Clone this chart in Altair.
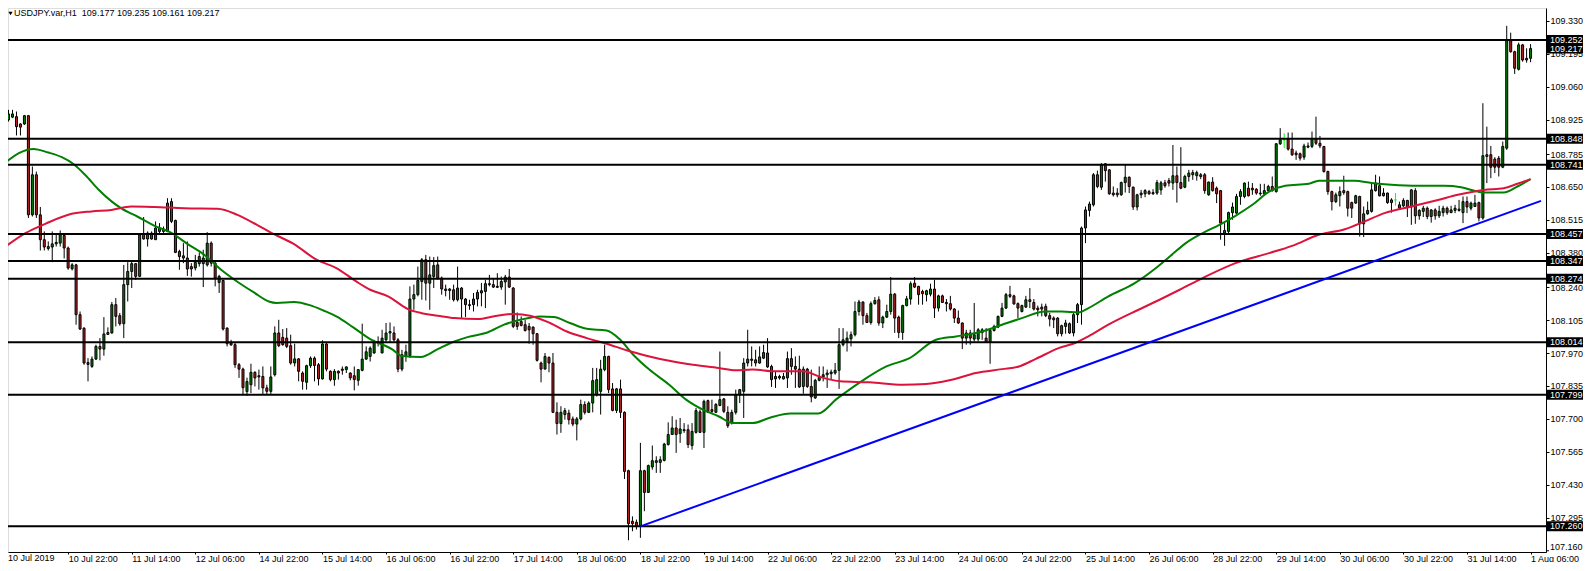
import altair as alt
import pandas as pd

# ---------------- data ----------------
opens = [108.938,108.925,108.936,108.938,108.908,108.908,108.942,108.536,108.700,108.536,
108.434,108.406,108.404,108.417,108.420,108.451,108.400,108.315,108.331,108.127,
108.072,107.931,107.915,107.945,107.997,107.986,108.054,108.052,108.168,108.123,
108.090,108.250,108.304,108.336,108.284,108.457,108.437,108.461,108.434,108.468,
108.478,108.468,108.590,108.513,108.386,108.368,108.359,108.324,108.318,108.336,
108.336,108.331,108.420,108.338,108.259,108.267,108.072,108.011,108.004,107.922,
107.904,107.812,107.840,107.891,107.877,107.874,107.827,107.813,107.881,108.052,
108.034,108.031,108.000,107.929,107.946,107.888,107.850,107.918,107.949,107.922,
107.864,108.007,107.895,107.861,107.895,107.904,107.902,107.888,107.877,107.858,
107.899,107.945,107.956,107.970,108.017,107.970,108.024,108.052,108.052,108.024,
107.904,107.959,107.959,108.191,108.209,108.263,108.352,108.256,108.283,108.331,
108.277,108.232,108.232,108.229,108.188,108.236,108.191,108.168,108.168,108.191,
108.216,108.222,108.254,108.250,108.243,108.240,108.261,108.281,108.236,108.095,
108.099,108.086,108.079,108.076,108.049,107.929,107.904,107.952,107.929,107.727,
107.681,107.718,107.724,107.700,107.679,107.700,107.759,107.727,107.765,107.799,
107.813,107.902,107.956,107.823,107.735,107.823,107.727,107.488,107.281,107.277,
107.263,107.488,107.399,107.503,107.529,107.522,107.530,107.595,107.636,107.663,
107.640,107.656,107.656,107.591,107.645,107.729,107.645,107.775,107.738,107.727,
107.755,107.782,107.727,107.684,107.727,107.799,107.813,107.929,107.945,107.942,
107.929,107.949,107.970,107.915,107.864,107.874,107.864,107.868,107.947,107.904,
107.904,107.833,107.904,107.833,107.786,107.858,107.872,107.881,107.885,107.888,
107.899,108.004,108.017,108.028,108.045,108.140,108.179,108.123,108.095,108.172,
108.188,108.093,108.117,108.140,108.211,108.117,108.054,108.164,108.191,108.256,
108.243,108.222,108.209,108.211,108.232,108.154,108.204,108.177,108.172,108.150,
108.113,108.093,108.031,108.052,108.027,108.027,108.054,108.031,108.013,108.062,
108.076,108.120,108.154,108.209,108.204,108.172,108.140,108.158,108.188,108.177,
108.154,108.158,108.161,108.123,108.113,108.113,108.049,108.079,108.090,108.052,
108.127,108.168,108.482,108.554,108.577,108.700,108.649,108.745,108.720,108.625,
108.625,108.618,108.668,108.690,108.649,108.568,108.625,108.622,108.631,108.622,
108.625,108.638,108.667,108.676,108.666,108.696,108.668,108.649,108.693,108.709,
108.696,108.700,108.700,108.618,108.670,108.645,108.635,108.461,108.468,108.545,
108.543,108.611,108.611,108.645,108.645,108.641,108.625,108.622,108.635,108.652,
108.631,108.827,108.843,108.846,108.805,108.789,108.786,108.772,108.813,108.816,
108.846,108.829,108.816,108.713,108.631,108.590,108.614,108.635,108.631,108.586,
108.584,108.611,108.499,108.540,108.550,108.635,108.655,108.625,108.625,108.597,
108.597,108.563,108.573,108.595,108.568,108.635,108.532,108.550,108.563,108.529,
108.556,108.532,108.545,108.563,108.545,108.554,108.559,108.545,108.590,108.563,
108.570,108.586,108.523,108.775,108.782,108.764,108.768,108.731,108.809,109.249,
109.204,109.132,109.232,109.177,109.177]

highs = [108.952,108.966,108.966,108.959,108.911,108.945,108.945,108.734,108.713,108.568,
108.468,108.427,108.468,108.454,108.472,108.461,108.406,108.338,108.335,108.140,
108.075,107.949,107.956,108.004,108.031,108.117,108.075,108.179,108.195,108.134,
108.331,108.342,108.345,108.338,108.461,108.527,108.468,108.468,108.509,108.502,
108.488,108.604,108.604,108.516,108.393,108.420,108.427,108.338,108.372,108.382,
108.393,108.465,108.427,108.345,108.290,108.270,108.075,108.024,108.011,107.929,
107.910,107.869,107.926,107.895,107.902,107.915,107.840,107.915,108.079,108.106,
108.068,108.072,108.045,108.008,107.949,107.895,107.922,107.956,107.956,107.929,
108.022,108.013,107.899,107.904,107.899,107.915,107.915,107.891,107.915,107.904,
108.090,107.997,107.997,108.024,108.038,108.065,108.093,108.095,108.079,108.031,
107.983,108.004,108.243,108.250,108.324,108.359,108.372,108.365,108.363,108.365,
108.283,108.250,108.236,108.250,108.324,108.240,108.195,108.188,108.216,108.229,
108.257,108.270,108.290,108.277,108.297,108.283,108.290,108.314,108.240,108.136,
108.120,108.106,108.093,108.079,108.052,107.935,107.970,107.956,107.970,107.768,
107.752,107.745,107.738,107.710,107.708,107.779,107.772,107.772,107.909,107.909,
107.942,108.004,107.959,107.847,107.827,107.861,107.731,107.492,107.301,107.288,
107.602,107.492,107.513,107.591,107.547,107.547,107.602,107.686,107.711,107.697,
107.704,107.683,107.677,107.683,107.745,107.738,107.779,107.779,107.779,107.765,
107.976,107.786,107.752,107.738,107.820,107.823,107.949,108.065,107.997,107.983,
107.997,108.004,108.031,107.922,107.895,107.881,107.888,107.976,107.990,107.956,
107.959,107.915,107.909,107.902,107.864,107.915,107.915,107.902,107.902,107.929,
108.072,108.072,108.058,108.058,108.181,108.188,108.181,108.134,108.181,108.199,
108.202,108.123,108.168,108.281,108.216,108.123,108.168,108.204,108.263,108.281,
108.245,108.229,108.229,108.254,108.270,108.209,108.209,108.191,108.204,108.154,
108.144,108.095,108.065,108.065,108.175,108.072,108.072,108.072,108.065,108.086,
108.123,108.175,108.216,108.245,108.209,108.177,108.168,108.204,108.236,108.191,
108.164,108.172,108.172,108.134,108.120,108.117,108.086,108.106,108.095,108.134,
108.175,108.488,108.570,108.590,108.707,108.717,108.748,108.748,108.723,108.652,
108.645,108.672,108.741,108.693,108.652,108.622,108.638,108.641,108.638,108.641,
108.679,108.675,108.679,108.687,108.822,108.734,108.813,108.700,108.720,108.720,
108.717,108.707,108.707,108.672,108.690,108.652,108.638,108.502,108.549,108.586,
108.622,108.641,108.668,108.672,108.666,108.645,108.663,108.663,108.659,108.693,
108.829,108.891,108.870,108.873,108.873,108.799,108.791,108.827,108.832,108.877,
108.938,108.859,108.818,108.717,108.635,108.627,108.652,108.696,108.635,108.590,
108.618,108.614,108.570,108.590,108.666,108.700,108.693,108.645,108.627,108.604,
108.625,108.590,108.604,108.597,108.641,108.645,108.559,108.573,108.570,108.559,
108.563,108.573,108.573,108.570,108.573,108.577,108.597,108.611,108.611,108.590,
108.618,108.590,108.993,108.897,108.818,108.772,108.777,108.836,109.310,109.282,
109.208,109.241,109.236,109.218,109.235]

lows = [108.859,108.918,108.932,108.861,108.861,108.904,108.523,108.529,108.523,108.390,
108.390,108.390,108.342,108.406,108.406,108.357,108.311,108.308,108.086,108.065,
107.922,107.854,107.909,107.942,107.940,107.959,108.045,108.049,108.079,108.082,
108.031,108.181,108.236,108.270,108.281,108.434,108.406,108.434,108.434,108.454,
108.462,108.465,108.502,108.379,108.311,108.338,108.286,108.283,108.308,108.324,
108.240,108.324,108.324,108.243,108.216,108.062,107.997,108.000,107.909,107.868,
107.799,107.795,107.806,107.833,107.820,107.799,107.799,107.799,107.874,107.994,
108.000,107.990,107.922,107.915,107.854,107.820,107.820,107.909,107.854,107.837,
107.861,107.895,107.854,107.836,107.861,107.881,107.888,107.858,107.817,107.836,
107.895,107.942,107.935,107.967,107.997,107.970,108.017,108.011,108.017,107.891,
107.895,107.934,107.950,108.147,108.202,108.188,108.185,108.147,108.236,108.270,
108.209,108.202,108.188,108.181,108.181,108.113,108.117,108.147,108.140,108.161,
108.161,108.154,108.243,108.236,108.236,108.229,108.168,108.236,108.072,108.065,
108.079,108.058,108.008,108.004,107.935,107.850,107.904,107.891,107.724,107.636,
107.643,107.697,107.677,107.670,107.612,107.694,107.718,107.724,107.727,107.792,
107.718,107.895,107.806,107.731,107.724,107.704,107.454,107.203,107.240,107.247,
107.213,107.322,107.397,107.492,107.479,107.479,107.526,107.591,107.636,107.561,
107.602,107.643,107.581,107.574,107.640,107.643,107.581,107.724,107.724,107.724,
107.752,107.724,107.663,107.677,107.718,107.765,107.704,107.915,107.915,107.915,
107.926,107.945,107.909,107.831,107.827,107.861,107.861,107.827,107.881,107.827,
107.827,107.803,107.827,107.768,107.782,107.854,107.854,107.827,107.861,107.881,
107.823,107.997,107.976,107.997,108.038,108.123,108.086,108.093,108.086,108.168,
108.082,108.072,108.113,108.127,108.052,108.031,108.024,108.161,108.168,108.236,
108.168,108.168,108.181,108.202,108.113,108.140,108.175,108.140,108.144,108.093,
108.089,107.986,108.004,108.004,108.017,108.017,108.024,108.011,107.926,108.058,
108.072,108.117,108.150,108.195,108.168,108.113,108.136,108.154,108.154,108.144,
108.120,108.120,108.117,108.079,108.072,108.038,108.038,108.049,108.048,108.038,
108.093,108.086,108.420,108.529,108.570,108.645,108.638,108.672,108.618,108.611,
108.608,108.614,108.627,108.625,108.556,108.554,108.604,108.608,108.618,108.618,
108.618,108.618,108.647,108.652,108.638,108.586,108.641,108.645,108.672,108.679,
108.676,108.682,108.622,108.614,108.631,108.584,108.434,108.409,108.461,108.516,
108.540,108.577,108.604,108.611,108.618,108.618,108.614,108.614,108.631,108.631,
108.627,108.822,108.809,108.799,108.777,108.761,108.758,108.761,108.809,108.809,
108.822,108.809,108.709,108.618,108.554,108.584,108.570,108.618,108.529,108.523,
108.581,108.447,108.445,108.536,108.545,108.631,108.611,108.611,108.581,108.545,
108.573,108.559,108.568,108.527,108.495,108.499,108.516,108.527,108.518,108.504,
108.516,108.523,108.529,108.536,108.543,108.543,108.549,108.502,108.543,108.554,
108.568,108.509,108.516,108.666,108.686,108.707,108.693,108.727,108.802,109.200,
109.113,109.127,109.163,109.159,109.161]

closes = [108.925,108.949,108.949,108.897,108.895,108.942,108.536,108.700,108.536,108.434,
108.404,108.398,108.417,108.423,108.454,108.400,108.318,108.331,108.127,108.068,
107.929,107.923,107.945,107.997,107.986,108.048,108.046,108.168,108.120,108.090,
108.250,108.304,108.336,108.284,108.454,108.437,108.461,108.437,108.482,108.482,
108.468,108.584,108.509,108.382,108.365,108.359,108.314,108.314,108.341,108.365,
108.359,108.420,108.338,108.277,108.284,108.068,108.008,108.003,107.922,107.904,
107.828,107.853,107.891,107.868,107.872,107.827,107.813,107.872,108.052,108.000,
108.004,107.997,107.929,107.946,107.895,107.854,107.918,107.949,107.919,107.864,
108.007,107.904,107.861,107.895,107.888,107.899,107.913,107.868,107.861,107.902,
107.945,107.975,107.990,108.017,108.011,108.031,108.052,108.058,108.024,107.904,
107.963,107.975,108.191,108.209,108.267,108.352,108.256,108.290,108.328,108.277,
108.232,108.226,108.226,108.188,108.236,108.191,108.168,108.164,108.191,108.218,
108.225,108.254,108.250,108.240,108.239,108.263,108.281,108.240,108.079,108.079,
108.083,108.062,108.065,108.049,107.940,107.904,107.956,107.929,107.727,107.681,
107.727,107.734,107.697,107.679,107.700,107.759,107.727,107.765,107.857,107.861,
107.904,107.956,107.820,107.735,107.823,107.727,107.485,107.271,107.271,107.260,
107.488,107.399,107.509,107.529,107.522,107.533,107.597,107.636,107.663,107.636,
107.659,107.652,107.595,107.649,107.734,107.645,107.772,107.727,107.731,107.759,
107.779,107.731,107.672,107.727,107.799,107.820,107.929,107.945,107.940,107.929,
107.954,107.972,107.913,107.861,107.874,107.868,107.874,107.947,107.915,107.915,
107.831,107.904,107.833,107.790,107.858,107.872,107.881,107.888,107.892,107.899,
108.004,108.024,108.031,108.045,108.140,108.179,108.123,108.095,108.172,108.185,
108.093,108.117,108.140,108.211,108.113,108.054,108.164,108.192,108.254,108.240,
108.209,108.213,108.225,108.232,108.154,108.204,108.177,108.172,108.150,108.113,
108.093,108.031,108.052,108.031,108.045,108.065,108.065,108.013,108.062,108.079,
108.120,108.154,108.209,108.202,108.171,108.154,108.164,108.188,108.181,108.150,
108.147,108.150,108.123,108.109,108.106,108.049,108.082,108.093,108.052,108.127,
108.168,108.482,108.556,108.580,108.700,108.652,108.741,108.717,108.622,108.618,
108.618,108.668,108.690,108.652,108.568,108.618,108.618,108.635,108.622,108.627,
108.668,108.667,108.655,108.666,108.696,108.668,108.645,108.693,108.707,108.700,
108.709,108.693,108.635,108.670,108.635,108.622,108.502,108.472,108.545,108.568,
108.611,108.631,108.666,108.614,108.638,108.625,108.622,108.635,108.652,108.635,
108.827,108.843,108.843,108.805,108.782,108.782,108.768,108.818,108.818,108.846,
108.829,108.818,108.713,108.631,108.590,108.618,108.631,108.627,108.563,108.563,
108.614,108.499,108.540,108.554,108.638,108.666,108.614,108.614,108.586,108.586,
108.597,108.577,108.595,108.568,108.638,108.532,108.554,108.563,108.529,108.556,
108.532,108.550,108.563,108.545,108.556,108.563,108.554,108.590,108.568,108.584,
108.584,108.523,108.778,108.782,108.731,108.731,108.731,108.816,109.249,109.204,
109.136,109.232,109.170,109.170,109.217]

# time-axis labels, one every 16 hourly bars starting at bar 0
time_labels = ["10 Jul 2019", "10 Jul 22:00", "11 Jul 14:00", "12 Jul 06:00", "14 Jul 22:00",
               "15 Jul 14:00", "16 Jul 06:00", "16 Jul 22:00", "17 Jul 14:00", "18 Jul 06:00",
               "18 Jul 22:00", "19 Jul 14:00", "22 Jul 06:00", "22 Jul 22:00", "23 Jul 14:00",
               "24 Jul 06:00", "24 Jul 22:00", "25 Jul 14:00", "26 Jul 06:00", "28 Jul 22:00",
               "29 Jul 14:00", "30 Jul 06:00", "30 Jul 22:00", "31 Jul 14:00", "1 Aug 06:00"]

price_ticks = [109.330, 109.195, 109.060, 108.925, 108.785, 108.650, 108.515, 108.380, 108.240,
               108.105, 107.970, 107.835, 107.700, 107.565, 107.430, 107.295]
price_tick_low = 107.160   # lowest scale label, drawn by hand so it clears the time labels

level_prices = [109.252, 108.848, 108.741, 108.457, 108.347, 108.274, 108.014, 107.799, 107.260]
bid_price = 109.217

ma_fast_bar = [0.25,3.6,7.3,11,14.4,17.25,20.25,23.5,27,29.5,33.5,37.75,42,46,50.25,54.5,58.5,62.75,66.5,68.5,
               72.75,77,80.25,83.5,87.75,92,97.75,99.75,104.75,109,113.2,116.5,121.5,125.7,129.75,134.75,138.2,142.25,146.5,151.5,
               154.75,158.2,162.25,167.25,171.5,175.7,179.75,183.2,188.2,192.75,197.75,204.75,209.4,215.25,221.9,227.75,234.4,239.4,246,251,
               256,261.9,266,270.25,272.75,277.75,284.4,289.5,293.2,297.25,301.5,305.7,309.75,314,318.2,322.25,328.2,330.7,335.7,339.75,
               344,349,355.7,362.25,366.5,370.7,372.25,377.25,380.7,384]
ma_fast_price = [108.750,108.789,108.806,108.791,108.772,108.745,108.700,108.642,108.590,108.561,
                 108.528,108.491,108.462,108.417,108.372,108.311,108.263,108.218,108.181,108.175,
                 108.179,108.165,108.144,108.120,108.075,108.027,107.983,107.959,107.954,107.986,
                 108.017,108.035,108.054,108.086,108.106,108.120,108.117,108.093,108.069,108.062,
                 108.027,107.963,107.902,107.840,107.779,107.738,107.710,107.683,107.683,107.706,
                 107.722,107.722,107.782,107.850,107.915,107.949,108.024,108.038,108.058,108.086,
                 108.113,108.140,108.140,108.136,108.154,108.202,108.256,108.315,108.365,108.420,
                 108.461,108.495,108.532,108.577,108.631,108.655,108.663,108.676,108.676,108.675,
                 108.666,108.659,108.655,108.655,108.649,108.631,108.627,108.627,108.652,108.682]

ma_slow_bar = [0.25,5.25,10.25,16.9,21.9,26.9,31.9,37.75,45.25,53.6,58.6,63.5,66.9,72.75,78.5,83.5,88.5,92,96.5,101.5,
               104.75,109,113.2,119,124,128.2,132.25,137.25,141.5,146.5,151.5,156.5,161.5,167.25,173.2,179.75,184,188.2,194,201,
               205.25,210.25,217.75,226,231.9,237.75,244.4,251,255.25,259.4,265.25,269.4,272.75,277.75,284.4,290.25,295.7,301.5,309.75,318.2,
               324,330.7,337.25,342.25,347.25,354,360.7,365.7,372.25,377.25,380.7,384]
ma_slow_price = [108.406,108.461,108.499,108.540,108.550,108.556,108.570,108.568,108.563,108.561,
                 108.536,108.495,108.464,108.417,108.352,108.318,108.263,108.229,108.202,108.150,
                 108.134,108.123,108.113,108.109,108.123,108.130,108.123,108.093,108.058,108.031,
                 108.008,107.981,107.959,107.938,107.922,107.909,107.899,107.902,107.895,107.895,
                 107.872,107.854,107.850,107.840,107.843,107.858,107.888,107.904,107.915,107.945,
                 107.990,108.011,108.038,108.086,108.140,108.185,108.229,108.277,108.338,108.379,
                 108.409,108.454,108.477,108.509,108.543,108.570,108.597,108.618,108.638,108.645,
                 108.663,108.682]

trend_bar = [160, 386.625]
trend_price = [107.260, 108.593]

title_text = "USDJPY.var,H1\u00a0\u00a0109.177 109.235 109.161 109.217"

# ---------------- chart ----------------
W, H = 1538, 544
FONT = "Liberation Sans"
Y_TOP = 109.383
Y_BOTTOM = 107.155

candles = pd.DataFrame({"bar": list(range(len(opens))), "o": opens, "h": highs, "l": lows, "c": closes})
ma_df = pd.concat([
    pd.DataFrame({"bar": ma_fast_bar, "price": ma_fast_price, "ma": "fast"}),
    pd.DataFrame({"bar": ma_slow_bar, "price": ma_slow_price, "ma": "slow"}),
])
trend_df = pd.DataFrame({"bar": trend_bar, "price": trend_price})
levels_df = pd.DataFrame({"price": level_prices})
boxes_df = pd.DataFrame({"price": level_prices + [bid_price]})
boxes_df["label"] = boxes_df["price"].map(lambda v: f"{v:.3f}")
low_tick_df = pd.DataFrame({"price": [price_tick_low], "label": [f"{price_tick_low:.3f}"]})

xs = alt.Scale(domain=[2.125, 386.625], nice=False, zero=False)
ys = alt.Scale(domain=[Y_BOTTOM, Y_TOP], nice=False, zero=False)

label_expr = "[" + ",".join("'" + t + "'" for t in time_labels) + "][round(datum.value/16)]"
x_axis = alt.Axis(values=[16 * k for k in range(1, len(time_labels))], labelExpr=label_expr,
                  labelAlign="left", labelBaseline="top", labelPadding=0,
                  labelFlush=False, labelOverlap=False, labelBound=False,
                  tickSize=2, tickColor="black", domainColor="black", labelColor="black",
                  labelFont=FONT, labelFontSize=9, grid=False, title=None)
y_axis = alt.Axis(orient="right", values=price_ticks, format=".3f", tickSize=3, labelPadding=1,
                  tickColor="black", domainColor="black", labelColor="black",
                  labelFont=FONT, labelFontSize=9, labelOverlap=False, labelFlush=False,
                  labelBound=False, grid=False, title=None)


def X(field):
    return alt.X(field, type="quantitative", scale=xs, axis=x_axis)


def Y(field):
    return alt.Y(field, type="quantitative", scale=ys, axis=y_axis)


wicks = alt.Chart(candles).mark_rule(strokeWidth=1, clip=True).encode(
    x=X("bar"), y=Y("l"), y2="h",
    color=alt.condition("datum.o == datum.c", alt.value("#00FF00"), alt.value("black")),
)

bodies = alt.Chart(candles).mark_bar(width=2, strokeWidth=1, clip=True).encode(
    x=X("bar"), y=Y("o"), y2="c",
    fill=alt.condition("datum.c > datum.o", alt.value("#008000"), alt.value("#B22222")),
    stroke=alt.condition("datum.o == datum.c", alt.value("#00FF00"), alt.value("black")),
)

mas = alt.Chart(ma_df).mark_line(strokeWidth=2, interpolate="monotone", clip=True).encode(
    x=X("bar"), y=Y("price"),
    color=alt.Color("ma:N", scale=alt.Scale(domain=["fast", "slow"], range=["#008000", "#DC143C"]), legend=None),
    detail="ma:N",
)

levels = alt.Chart(levels_df).mark_rule(strokeWidth=2, color="black").encode(y=Y("price"))

trend = alt.Chart(trend_df).mark_line(strokeWidth=2, color="#0000FF", clip=True).encode(
    x=X("bar"), y=Y("price"))

low_tick = alt.Chart(low_tick_df).mark_rule(color="black", strokeWidth=1).encode(
    x=alt.value(W), x2=alt.value(W + 3), y=Y("price"))
low_text = alt.Chart(low_tick_df).mark_text(align="left", baseline="middle", color="black",
                                            font=FONT, fontSize=9, dy=-4).encode(
    x=alt.value(W + 4), y=Y("price"), text="label:N")

boxes = alt.Chart(boxes_df).mark_rule(strokeWidth=10, color="black", strokeCap="butt").encode(
    x=alt.value(W + 1), x2=alt.value(W + 37), y=Y("price"))

box_text = alt.Chart(boxes_df).mark_text(align="left", baseline="middle", color="white",
                                         font=FONT, fontSize=9).encode(
    x=alt.value(W + 4), y=Y("price"), text="label:N")

title = alt.Chart(pd.DataFrame({"t": [title_text]})).mark_text(
    align="left", baseline="top", font=FONT, fontSize=9, color="black").encode(
    x=alt.value(6), y=alt.value(1), text="t:N")

tri = alt.Chart(pd.DataFrame({"t": [1]})).mark_point(
    shape="triangle-down", filled=True, color="black", size=18, opacity=1).encode(
    x=alt.value(2.5), y=alt.value(5.5))

first_label = alt.Chart(pd.DataFrame({"t": [time_labels[0]]})).mark_text(
    align="left", baseline="top", font=FONT, fontSize=9, color="black").encode(
    x=alt.value(0), y=alt.value(H + 2), text="t:N")

chart = alt.layer(wicks, bodies, mas, levels, trend, low_tick, low_text, boxes, box_text,
                  title, tri, first_label).properties(
    width=W, height=H, background="white",
    autosize=alt.AutoSizeParams(type="none"),
    padding={"left": 0, "top": 0, "right": 37, "bottom": 10},
).configure_view(stroke=None).configure(font=FONT)

chart.save("out.html", embed_options={"renderer": "svg", "actions": False})
